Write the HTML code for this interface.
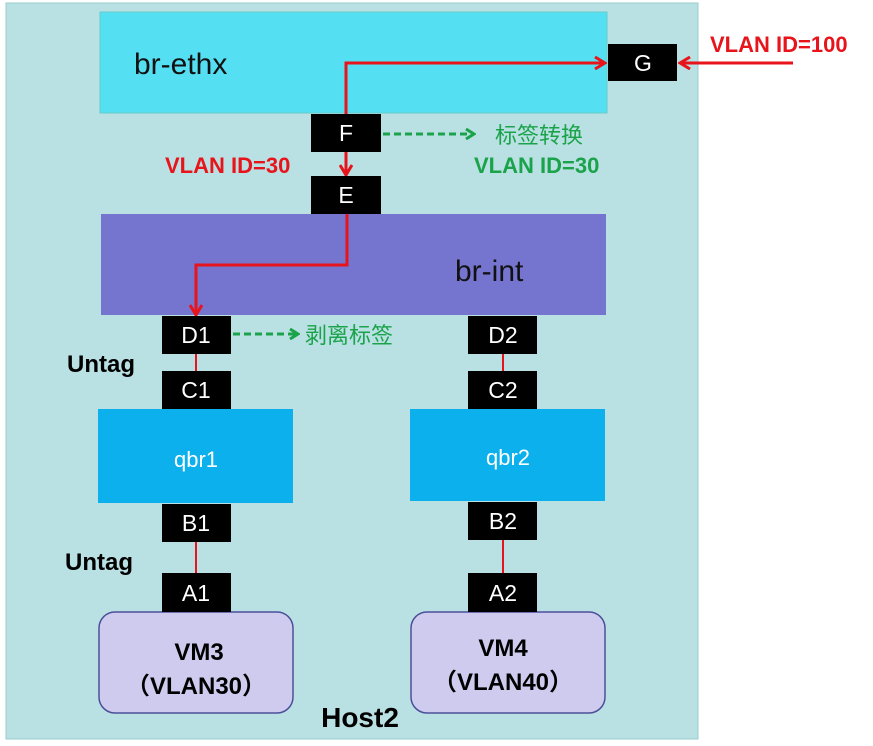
<!DOCTYPE html>
<html><head><meta charset="utf-8"><style>
body{margin:0;background:#fff;}
svg text{font-family:"Liberation Sans","Noto Sans CJK SC",sans-serif;}
</style></head><body>
<svg width="873" height="741" viewBox="0 0 873 741" xmlns="http://www.w3.org/2000/svg">
<defs>
<marker id="ar" markerWidth="14" markerHeight="14" refX="11" refY="7" orient="auto" markerUnits="userSpaceOnUse"><path d="M2,1 L12,7 L2,13" fill="none" stroke="#e8141c" stroke-width="3"/></marker>
<marker id="ag" markerWidth="12" markerHeight="12" refX="10" refY="6" orient="auto" markerUnits="userSpaceOnUse"><path d="M2,1 L10,6 L2,11" fill="none" stroke="#1aa34a" stroke-width="3"/></marker>
</defs>
<rect x="6" y="3" width="692" height="736" fill="#b9e0e2" stroke="#9cc" stroke-width="1"/>
<rect x="100" y="12" width="507" height="101" fill="#55dff2" stroke="#6cc"/>
<text x="134" y="74" font-size="30" fill="#111">br-ethx</text>
<rect x="101" y="214" width="505" height="101" fill="#7574cf"/>
<text x="455" y="281" font-size="30" fill="#111">br-int</text>
<rect x="98" y="409" width="195" height="94" fill="#0bb0ec"/>
<text x="196" y="467" font-size="22" fill="#fff" text-anchor="middle">qbr1</text>
<rect x="410" y="409" width="195" height="92" fill="#0bb0ec"/>
<text x="508" y="465" font-size="22" fill="#fff" text-anchor="middle">qbr2</text>
<rect x="99" y="612" width="194" height="101" rx="16" fill="#cecbee" stroke="#4b4f9a" stroke-width="1.5"/>
<rect x="411" y="612" width="194" height="101" rx="16" fill="#cecbee" stroke="#4b4f9a" stroke-width="1.5"/>
<text x="199" y="660" font-size="24" font-weight="bold" text-anchor="middle">VM3</text>
<text x="196" y="694" font-size="24" font-weight="bold" text-anchor="middle">（VLAN30）</text>
<text x="503" y="656" font-size="24" font-weight="bold" text-anchor="middle">VM4</text>
<text x="503" y="690" font-size="24" font-weight="bold" text-anchor="middle">（VLAN40）</text>
<text x="360" y="727" font-size="28" font-weight="bold" text-anchor="middle">Host2</text>
<g stroke="#e8141c" stroke-width="3" fill="none">
<path d="M346,114 V63 H604" marker-end="url(#ar)"/>
<path d="M793,63 H681" marker-end="url(#ar)"/>
<path d="M346,152 V174" marker-end="url(#ar)"/>
<path d="M347,213 V265 H196 V314" marker-end="url(#ar)"/>
</g>
<g stroke="#e8141c" stroke-width="2" fill="none">
<path d="M196,354 V371 M196,542 V573 M503,354 V371 M503,540 V573"/>
</g>
<g fill="#000">
<rect x="608" y="44" width="69" height="37"/>
<rect x="311" y="114" width="70" height="38"/>
<rect x="311" y="176" width="70" height="38"/>
<rect x="162" y="316" width="69" height="38"/>
<rect x="468" y="316" width="69" height="38"/>
<rect x="162" y="371" width="69" height="38"/>
<rect x="468" y="371" width="69" height="38"/>
<rect x="162" y="504" width="69" height="38"/>
<rect x="468" y="502" width="69" height="38"/>
<rect x="162" y="573" width="69" height="39"/>
<rect x="468" y="573" width="69" height="39"/>
</g>
<g fill="#fff" font-size="23" text-anchor="middle">
<text x="643" y="71">G</text>
<text x="346" y="141">F</text>
<text x="346" y="203">E</text>
<text x="196" y="343">D1</text>
<text x="503" y="343">D2</text>
<text x="196" y="398">C1</text>
<text x="503" y="398">C2</text>
<text x="196" y="531">B1</text>
<text x="503" y="529">B2</text>
<text x="196" y="601">A1</text>
<text x="503" y="601">A2</text>
</g>
<g stroke="#1aa34a" stroke-width="3" stroke-dasharray="7,4" fill="none">
<path d="M383,134 H474" marker-end="url(#ag)"/>
<path d="M233,334 H298" marker-end="url(#ag)"/>
</g>
<text x="495" y="143" font-size="22" fill="#1aa34a">标签转换</text>
<text x="474" y="173" font-size="22" font-weight="bold" fill="#1aa34a">VLAN ID=30</text>
<text x="305" y="343" font-size="22" fill="#1aa34a">剥离标签</text>
<text x="165" y="173" font-size="22" font-weight="bold" fill="#e8141c">VLAN ID=30</text>
<text x="710" y="52" font-size="22" font-weight="bold" fill="#e8141c">VLAN ID=100</text>
<text x="67" y="372" font-size="24" font-weight="bold">Untag</text>
<text x="65" y="570" font-size="24" font-weight="bold">Untag</text>
</svg>
</body></html>
